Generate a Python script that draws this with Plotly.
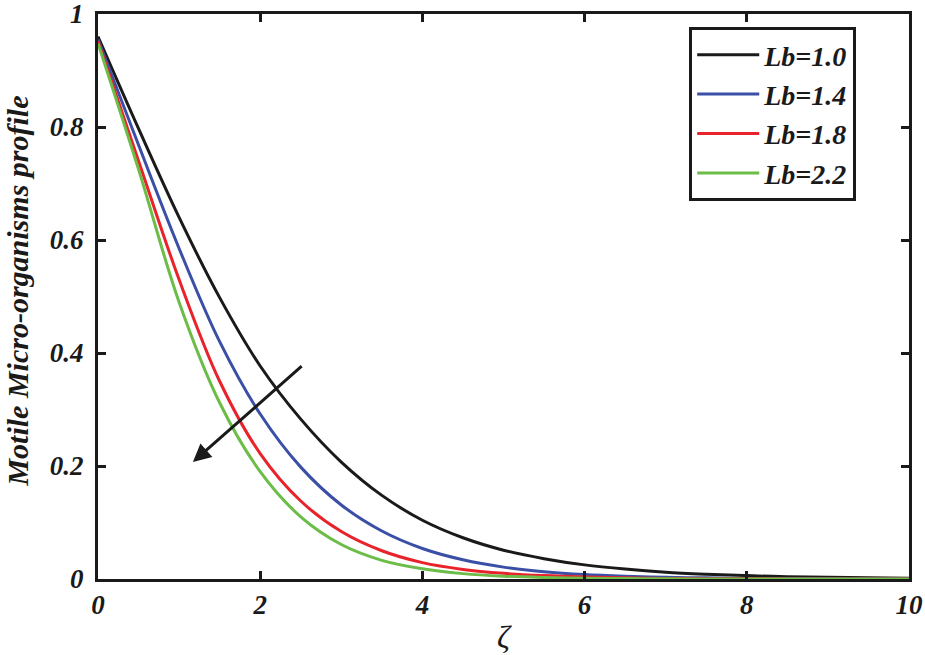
import plotly.graph_objects as go

zeta = [0, 0.5, 1.0, 1.5, 2.0, 2.5, 3.0, 3.5, 4.0, 4.5, 5.0,
        5.5, 6.0, 6.5, 7.0, 7.5, 8.0, 8.5, 9.0, 9.5, 10.0]

# Motile micro-organisms profile for each Lb
lb_10 = [0.960, 0.797, 0.640, 0.498, 0.377, 0.283, 0.207, 0.148, 0.104, 0.073, 0.051,
         0.036, 0.025, 0.0175, 0.012, 0.0085, 0.006, 0.004, 0.003, 0.002, 0.0015]
lb_14 = [0.955, 0.768, 0.585, 0.420, 0.292, 0.198, 0.131, 0.085, 0.054, 0.034, 0.021,
         0.013, 0.008, 0.005, 0.003, 0.002, 0.001, 0.001, 0.0005, 0.0003, 0.0002]
lb_18 = [0.952, 0.740, 0.530, 0.350, 0.222, 0.138, 0.084, 0.050, 0.029, 0.017, 0.010,
         0.006, 0.0035, 0.002, 0.001, 0.0006, 0.0003, 0.0002, 0.0001, 0.0, 0.0]
lb_22 = [0.948, 0.725, 0.490, 0.312, 0.190, 0.110, 0.061, 0.033, 0.018, 0.0095, 0.005,
         0.0027, 0.0014, 0.0007, 0.0003, 0.0001, 0.0, 0.0, 0.0, 0.0, 0.0]

series = [
    ("Lb=1.0", lb_10, "#1a1a1a"),
    ("Lb=1.4", lb_14, "#3b4fa6"),
    ("Lb=1.8", lb_18, "#e8232b"),
    ("Lb=2.2", lb_22, "#6bbd47"),
]

tick_font = dict(family="Liberation Serif", size=27, color="#1a1a1a",
                 weight="bold", style="italic")

fig = go.Figure()
for name, vals, color in series:
    fig.add_trace(go.Scatter(x=zeta, y=vals, mode="lines", name=name,
                             line=dict(color=color, width=3, shape="spline")))

# Arrow showing increasing Lb
fig.add_annotation(x=1.17, y=0.207, ax=2.53, ay=0.379, xref="x", yref="y",
                   axref="x", ayref="y", text="", showarrow=True,
                   arrowhead=2, arrowsize=1.2, arrowwidth=3, arrowcolor="#1a1a1a")

# y-axis title placed by hand so it sits close to the page edge
fig.add_annotation(text="Motile Micro-organisms profile", xref="paper", yref="paper",
                   x=-0.099, y=0.51, xanchor="center", yanchor="middle",
                   textangle=-90, showarrow=False,
                   font=dict(family="Liberation Serif", size=30, color="#1a1a1a",
                             weight="bold", style="italic"))

axis_common = dict(showline=True, linecolor="#1a1a1a", linewidth=3, mirror="ticks",
                   ticks="inside", ticklen=8, tickwidth=3, tickcolor="#1a1a1a",
                   showgrid=False, zeroline=False, tickfont=tick_font,
                   automargin=False, ticklabeloverflow="allow")

fig.update_xaxes(range=[0, 10], dtick=2, **axis_common,
                 title=dict(text="ζ", font=dict(family="Liberation Serif", size=32,
                                                 color="#1a1a1a", style="italic"),
                            standoff=10))
fig.update_yaxes(range=[0, 1], dtick=0.2, ticklabelstandoff=6, **axis_common)

fig.update_layout(
    width=925, height=655,
    margin=dict(l=98, r=16, t=14, b=76),
    plot_bgcolor="white", paper_bgcolor="white",
    legend=dict(x=0.729, y=0.977, xanchor="left", yanchor="top",
                bordercolor="#1a1a1a", borderwidth=3, bgcolor="white",
                font=dict(family="Liberation Serif", size=28, color="#1a1a1a",
                          weight="bold", style="italic"),
                tracegroupgap=0, itemwidth=62, entrywidth=190),
    showlegend=True,
)

fig.write_html("out.html", config={"displayModeBar": False},
               post_script="document.body.style.margin='0';")
